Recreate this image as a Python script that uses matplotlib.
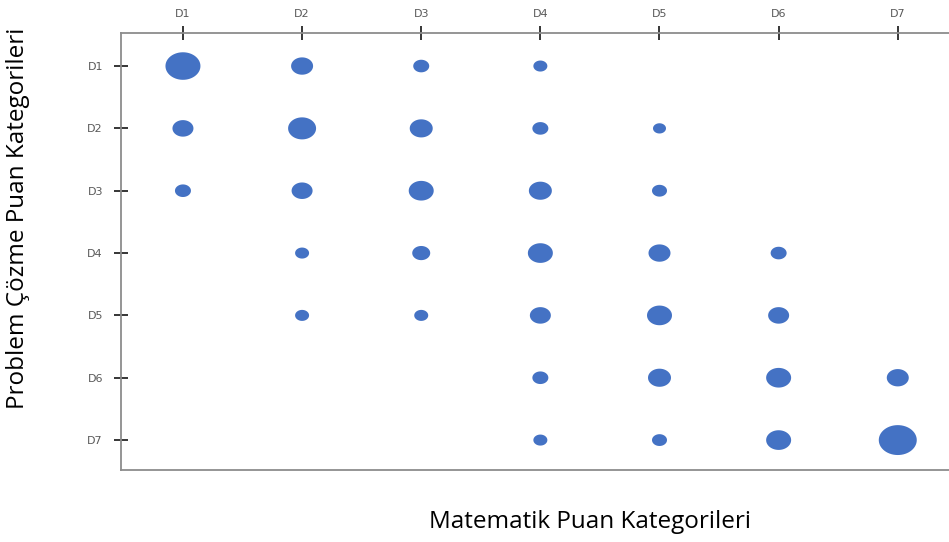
import numpy as np
import matplotlib
matplotlib.use('Agg')
import matplotlib.pyplot as plt
from matplotlib.path import Path

# category labels
categories = ['D1', 'D2', 'D3', 'D4', 'D5', 'D6', 'D7']

# bubble magnitudes (row = problem solving, col = math)
# 0 means no bubble
bubble_vals = [
    [35, 22, 16, 14, 0, 0, 0],    # D1
    [21, 28, 23, 16, 13, 0, 0],   # D2
    [16, 21, 25, 23, 15, 0, 0],   # D3
    [0, 14, 18, 25, 22, 16, 0],   # D4
    [0, 14, 14, 21, 25, 21, 0],   # D5
    [0, 0, 0, 16, 23, 25, 22],    # D6
    [0, 0, 0, 14, 15, 25, 38],    # D7
]

xlabel = 'Matematik Puan Kategorileri'
ylabel = 'Problem Çözme Puan Kategorileri'

# flattened ellipse marker (bubbles look stretched horizontally)
t = np.linspace(0, 2 * np.pi, 60)
ell = Path(np.column_stack([np.cos(t), np.sin(t) / 1.27]), closed=True)

fig = plt.figure(figsize=(9.49, 5.42), dpi=100)
ax = fig.add_axes([121 / 949, 1 - 470 / 542, 1 - 121 / 949, (470 - 33) / 542])

xs, ys, ss = [], [], []
for r, row in enumerate(bubble_vals):
    for c, v in enumerate(row):
        if v > 0:
            xs.append(c + 1)
            ys.append(r + 1)
            ss.append((v * 0.72) ** 2)

ax.scatter(xs, ys, s=ss, marker=ell, color='#4472C4', edgecolors='none', zorder=3)

ax.set_xlim(0.48, 7.43)
ax.set_ylim(7.48, 0.47)

pos = np.arange(1, len(categories) + 1)
ax.set_xticks(pos)
ax.set_xticklabels(categories)
ax.set_yticks(pos)
ax.set_yticklabels(categories)
ax.xaxis.tick_top()
ax.tick_params(axis='both', direction='inout', length=10, width=1.1, color='black',
               labelsize=8, labelcolor='#595959')
ax.tick_params(axis='x', pad=5)
ax.tick_params(axis='y', pad=8)

ax.spines['right'].set_visible(False)
for side in ['left', 'top', 'bottom']:
    ax.spines[side].set_color('#8c8c8c')
    ax.spines[side].set_linewidth(1.3)

fig.text(590 / 949, 1 - 522 / 542, xlabel, ha='center', va='center',
         fontsize=17.5, family='Open Sans')
fig.text(18 / 949, 1 - 218 / 542, ylabel, ha='center', va='center',
         rotation=90, fontsize=17.5, family='Open Sans')

fig.savefig('out.png', dpi=100)
